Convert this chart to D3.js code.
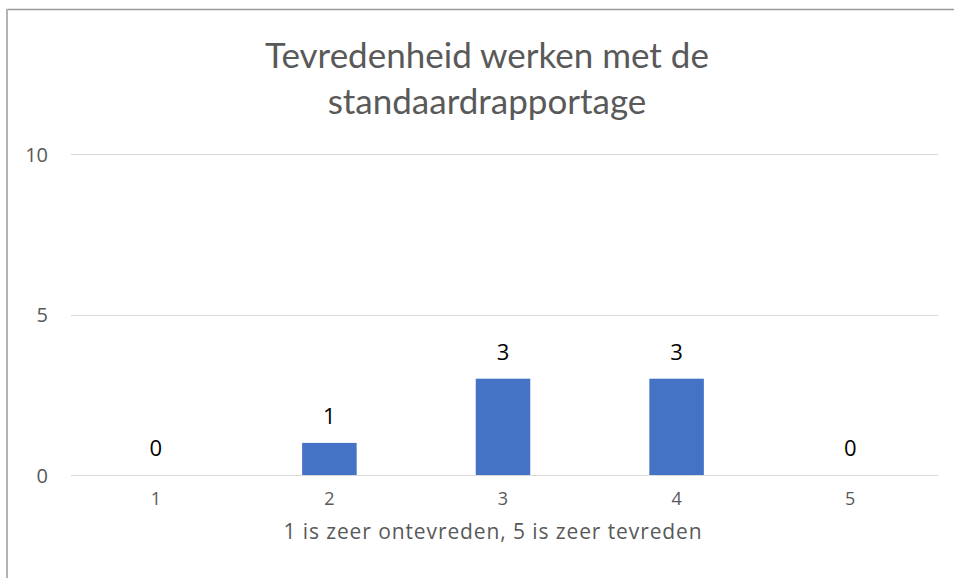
<!DOCTYPE html>
<html><head><meta charset="utf-8">
<script src="https://cdn.jsdelivr.net/npm/d3@7"></script>
<style>body{margin:0;background:#fff}svg{display:block}</style>
</head><body><svg id="c" width="954" height="578"></svg>
<script>
const categories = ["1","2","3","4","5"];
const values = [0,1,3,3,0];
const yTicks = [0,5,10];
const titleLines = ["Tevredenheid werken met de","standaardrapportage"];
const xTitle = "1 is zeer ontevreden, 5 is zeer tevreden";

const titleFont = "Lato, 'Open Sans', sans-serif";
const font = "'Open Sans', Lato, sans-serif";
const svg = d3.select("#c");
svg.append("rect").attr("x",0).attr("y",0).attr("width",954).attr("height",578).attr("fill","#fff");
// chart border (partially visible)
svg.append("line").attr("x1",7).attr("x2",954).attr("y1",9.5).attr("y2",9.5).attr("stroke","#999").attr("stroke-width",1.5);
svg.append("line").attr("x1",7).attr("x2",7).attr("y1",9).attr("y2",578).attr("stroke","#b3b3b3").attr("stroke-width",2);

const x = d3.scaleBand().domain(categories).range([69,937]).paddingInner(0.686).paddingOuter(0.343);
const y = d3.scaleLinear().domain([0,10]).range([475,154]);

// gridlines
svg.append("g").selectAll("line").data(yTicks).join("line")
  .attr("x1",71).attr("x2",938).attr("y1",d=>Math.round(y(d))+0.5).attr("y2",d=>Math.round(y(d))+0.5)
  .attr("stroke","#d9d9d9").attr("stroke-width",1);

const yAxis = svg.append("g").attr("transform","translate(48,0)")
  .call(d3.axisLeft(y).tickValues(yTicks).tickSize(0).tickPadding(0));
yAxis.select(".domain").remove();
yAxis.selectAll("text").attr("font-family",font).attr("font-size",20).attr("fill","#595959").attr("text-anchor","end").attr("dy","0.36em");

const xAxis = svg.append("g").attr("transform","translate(0,475)")
  .call(d3.axisBottom(x).tickSize(0).tickPadding(0));
xAxis.select(".domain").remove();
xAxis.selectAll("text").attr("font-family",font).attr("font-size",18).attr("fill","#595959").attr("dy","0").attr("y",30);

svg.append("g").selectAll("rect").data(values).join("rect")
  .attr("x",(d,i)=>x(categories[i])).attr("width",x.bandwidth())
  .attr("y",d=>y(d)).attr("height",d=>y(0)-y(d)).attr("fill","#4472C4");

svg.append("g").selectAll("text").data(values).join("text")
  .attr("x",(d,i)=>x(categories[i])+x.bandwidth()/2).attr("y",d=>y(d)-19)
  .attr("text-anchor","middle").attr("font-family",font).attr("font-size",22).attr("fill","#000").text(d=>d);

svg.append("text").attr("x",493).attr("y",539).attr("text-anchor","middle")
  .attr("font-family",font).attr("font-size",21).attr("letter-spacing","0.9px").attr("fill","#595959").text(xTitle);

svg.append("g").selectAll("text").data(titleLines).join("text")
  .attr("x",487).attr("y",(d,i)=>68+i*46).attr("text-anchor","middle")
  .attr("font-family",titleFont).attr("font-size",35).attr("fill","#595959").text(d=>d);
</script></body></html>
